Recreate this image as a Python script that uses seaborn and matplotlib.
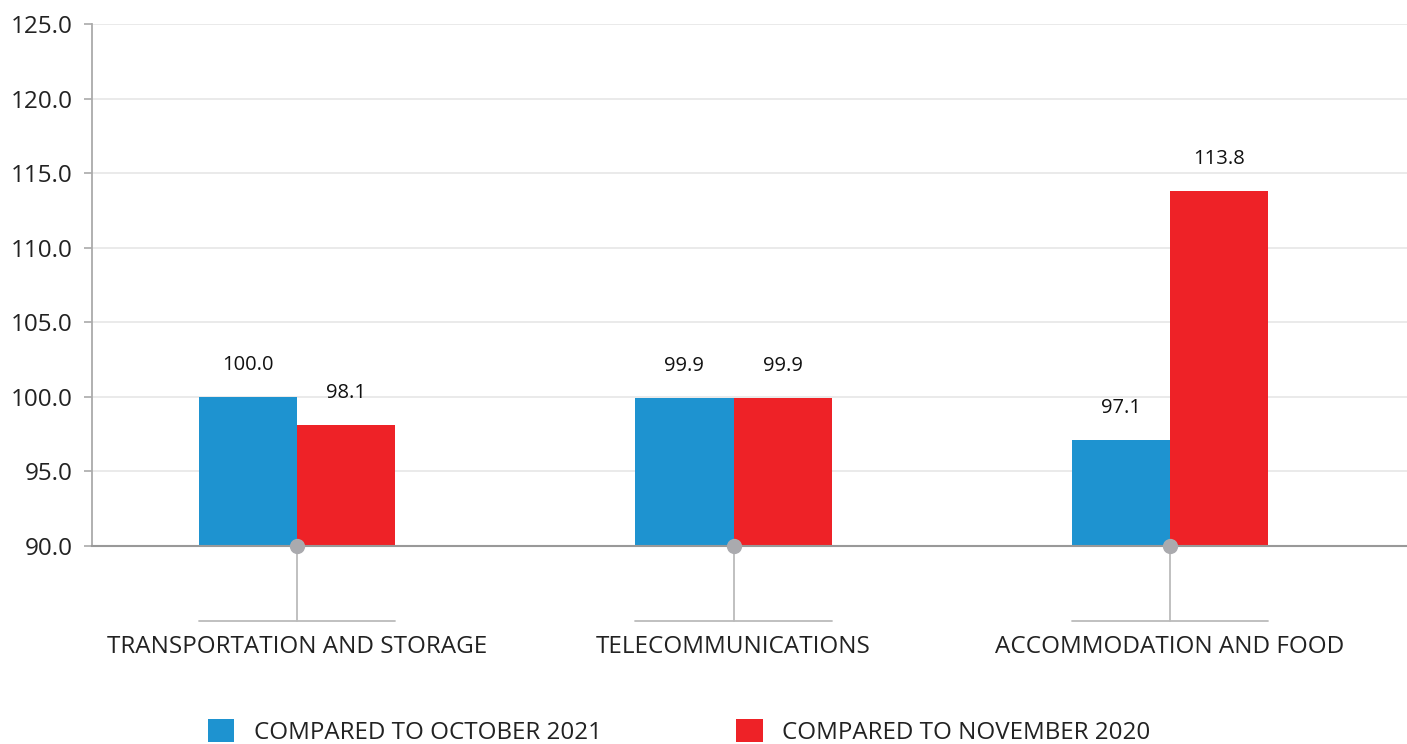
import matplotlib
matplotlib.use("Agg")
import matplotlib.pyplot as plt
import seaborn as sns
import pandas as pd
from matplotlib.ticker import FormatStrFormatter
from matplotlib.patches import Patch

categories = ["TRANSPORTATION AND STORAGE", "TELECOMMUNICATIONS", "ACCOMMODATION AND FOOD"]
series_names = ["COMPARED TO OCTOBER 2021", "COMPARED TO NOVEMBER 2020"]
vs_october_2021 = [100.0, 99.9, 97.1]
vs_november_2020 = [98.1, 99.9, 113.8]
colors = ["#1e93d0", "#ee2227"]

df = pd.DataFrame({
    "category": categories * 2,
    "series": [series_names[0]] * 3 + [series_names[1]] * 3,
    "value": vs_october_2021 + vs_november_2020,
})

sns.set_theme(style="white")
plt.rcParams["font.family"] = ["Open Sans", "DejaVu Sans"]

W, H = 1407, 744
fig = plt.figure(figsize=(W / 100, H / 100), dpi=100)
ax = fig.add_axes([92 / W, 1 - 546 / H, 1 - 92 / W, (546 - 24) / H])

sns.barplot(data=df, x="category", y="value", hue="series", order=categories,
            hue_order=series_names, palette=colors, width=0.45, gap=0,
            saturation=1, ax=ax, legend=False, linewidth=0)

ax.set_ylim(90, 125)
ax.set_xlim(-0.4697, 2.543)
ax.set_yticks([90, 95, 100, 105, 110, 115, 120, 125])
ax.yaxis.set_major_formatter(FormatStrFormatter("%.1f"))
ax.grid(axis="y", color="#e6e6e6", linewidth=1.2)
ax.set_axisbelow(True)
for s in ["top", "right"]:
    ax.spines[s].set_visible(False)
ax.spines["left"].set_color("#aaaaaa")
ax.spines["left"].set_linewidth(1.3)
ax.spines["bottom"].set_color("#999999")
ax.spines["bottom"].set_linewidth(1.5)
ax.tick_params(axis="y", length=6, color="#aaaaaa", width=1.2, labelsize=17.5,
               labelcolor="#222222", pad=8, left=True)
ax.tick_params(axis="x", length=0, labelsize=17.5, labelcolor="#222222", pad=64)
ax.set_xlabel("")
ax.set_ylabel("")

# value labels
for container in ax.containers:
    ax.bar_label(container, fmt="%.1f", padding=16, fontsize=14.5, color="#111111")

# decorations below the baseline
px_per_unit = (546 - 24) / 35.0
y_low = 90 - (621 - 546) / px_per_unit
for i in range(len(categories)):
    ax.plot([i, i], [90, y_low], color="#bbbbbb", lw=1.3, clip_on=False, zorder=1)
    ax.plot([i - 0.225, i + 0.225], [y_low, y_low], color="#bbbbbb", lw=1.3,
            clip_on=False, zorder=1)
    ax.plot([i], [90], marker="o", markersize=11, color="#aaaaae", clip_on=False,
            zorder=5, markeredgewidth=0)

handles = [Patch(facecolor=c, edgecolor="none") for c in colors]
fig.legend(handles, series_names, loc="center left", ncol=2,
           bbox_to_anchor=(186 / W, 1 - 732 / H), frameon=False, fontsize=17.4,
           handlelength=1.1, handleheight=1.1, handletextpad=0.8,
           columnspacing=5.57, labelcolor="#222222")

fig.savefig("out.png", dpi=100)
